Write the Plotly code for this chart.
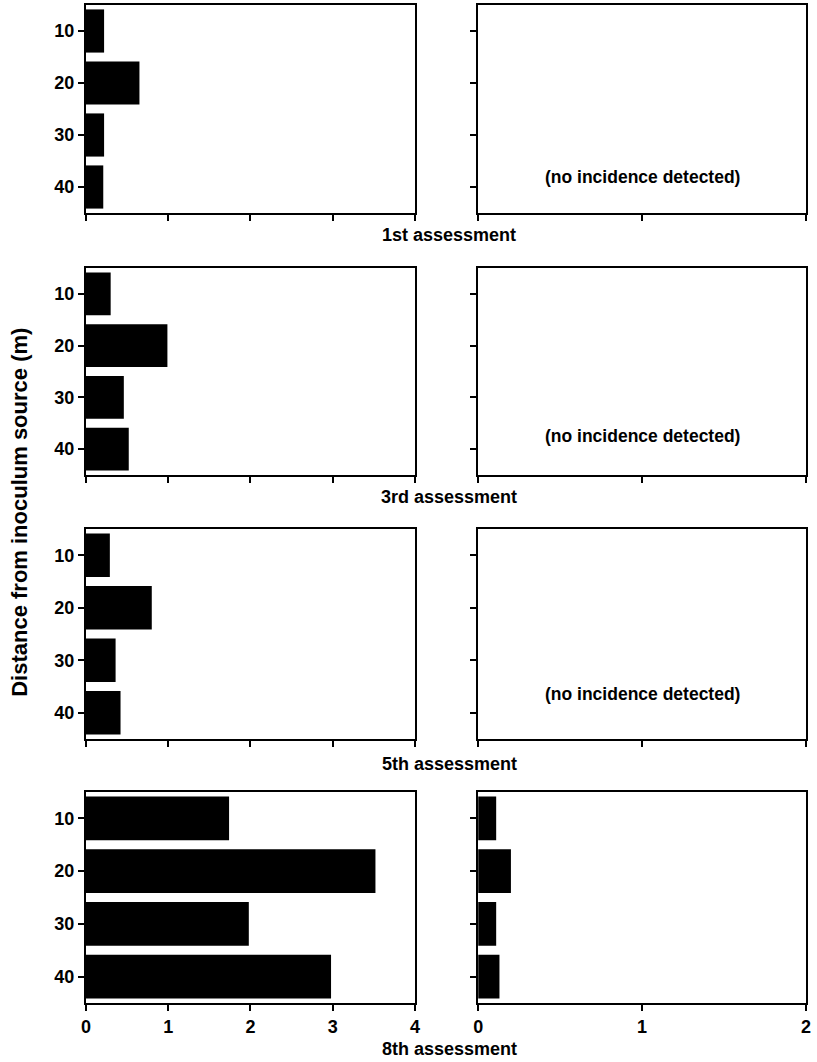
import plotly.graph_objects as go

distances = [10, 20, 30, 40]
assessments = ["1st assessment", "3rd assessment", "5th assessment", "8th assessment"]
left_values = [
    [0.22, 0.65, 0.22, 0.21],
    [0.30, 0.99, 0.46, 0.52],
    [0.29, 0.80, 0.36, 0.42],
    [1.74, 3.52, 1.98, 2.98],
]
right_values = [
    None,
    None,
    None,
    [0.11, 0.20, 0.11, 0.13],
]
no_incidence_text = "(no incidence detected)"
left_ticks = [0, 1, 2, 3, 4]
right_ticks = [0, 1, 2]
y_title = "Distance from inoculum source (m)"

W, H = 817, 1062
FONT = "Liberation Sans, Arial, Helvetica, sans-serif"

# pixel positions of panels (top, bottom)
rows_px = [(5, 213), (268, 475), (529, 739), (792, 1003)]
left_px = (82, 415)
right_px = (479, 811)
title_px = [235, 497, 764, 1049]
noinc_y = [38, 37.5, 36.5]

fig = go.Figure()
layout = dict(
    width=W, height=H, margin=dict(l=0, r=0, t=0, b=0),
    paper_bgcolor="white", plot_bgcolor="white", showlegend=False,
    font=dict(family=FONT, size=18, color="black", weight="bold"),
)
annotations = []

def dom_x(px):
    return [px[0] / W, px[1] / W]

def dom_y(px):
    return [1 - px[1] / H, 1 - px[0] / H]

TF = dict(size=18, family=FONT, color="black", weight="bold")

for r in range(4):
    for c in range(2):
        idx = r * 2 + c + 1
        xa = "xaxis" if idx == 1 else f"xaxis{idx}"
        ya = "yaxis" if idx == 1 else f"yaxis{idx}"
        xr = "x" if idx == 1 else f"x{idx}"
        yr = "y" if idx == 1 else f"y{idx}"
        vals = left_values[r] if c == 0 else right_values[r]
        if vals is not None:
            fig.add_trace(go.Bar(
                x=vals, y=distances, orientation="h", width=8.3,
                marker=dict(color="black", line=dict(width=0)),
                xaxis=xr, yaxis=yr, hoverinfo="skip",
            ))
        ticks = left_ticks if c == 0 else right_ticks
        layout[xa] = dict(
            domain=dom_x(left_px if c == 0 else right_px),
            anchor=yr, range=[0, ticks[-1]], tickvals=ticks,
            showticklabels=(r == 3), ticks="outside", ticklen=6, tickwidth=2,
            tickcolor="black", showline=True, linecolor="black", linewidth=2,
            mirror=True, showgrid=False, zeroline=False, fixedrange=True,
            tickfont=TF,
        )
        layout[ya] = dict(
            domain=dom_y(rows_px[r]), anchor=xr, range=[45, 5],
            tickvals=distances, showticklabels=(c == 0),
            ticks="outside", ticklen=6, tickwidth=2, tickcolor="black",
            showline=True, linecolor="black", linewidth=2, mirror=True,
            showgrid=False, zeroline=False, fixedrange=True,
            tickfont=TF,
        )
        if c == 1 and vals is None:
            annotations.append(dict(
                x=1, y=noinc_y[r], xref=xr, yref=yr, text=no_incidence_text,
                showarrow=False,
                font=dict(size=17.5, family=FONT, color="black", weight="bold"),
                xanchor="center", yanchor="middle",
            ))
    annotations.append(dict(
        x=450 / W, y=1 - title_px[r] / H, xref="paper", yref="paper",
        text=assessments[r], showarrow=False,
        font=dict(size=18, family=FONT, color="black", weight="bold"),
        xanchor="center", yanchor="middle",
    ))

annotations.append(dict(
    x=15 / W, y=1 - 512 / H, xref="paper", yref="paper", text=y_title,
    textangle=-90, showarrow=False,
    font=dict(size=22, family=FONT, color="black", weight="bold"),
    xanchor="center", yanchor="middle",
))
layout["annotations"] = annotations
fig.update_layout(**layout)
fig.write_html("out.html")
